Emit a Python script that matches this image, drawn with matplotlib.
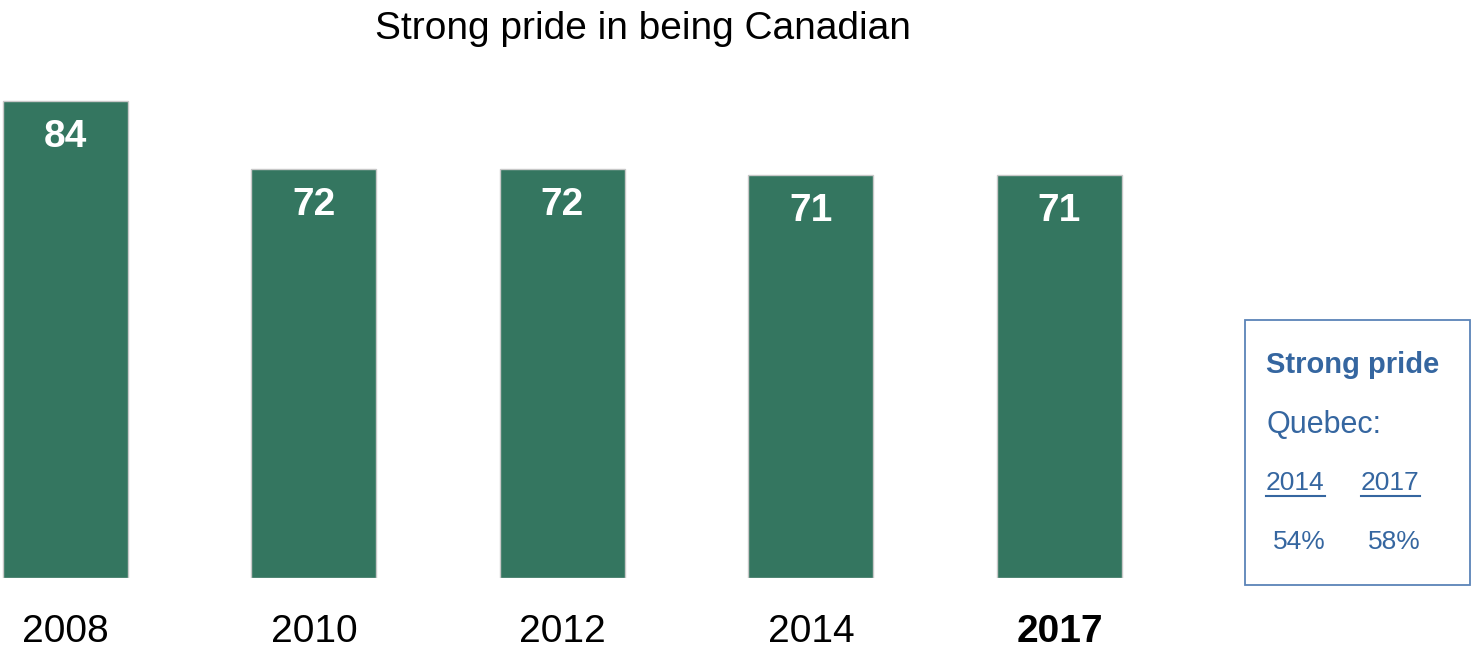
import matplotlib
matplotlib.use("Agg")
import matplotlib.pyplot as plt
from matplotlib.lines import Line2D

plt.rcParams['font.family'] = ['Liberation Sans', 'DejaVu Sans']

# data
years = ['2008', '2010', '2012', '2014', '2017']
pride = [84, 72, 72, 71, 71]
quebec_years = ['2014', '2017']
quebec_vals = ['54%', '58%']

bar_color = '#347660'
blue = '#3566a0'

fig = plt.figure(figsize=(14.72, 6.48), dpi=100)
ax = fig.add_axes([0.0006, 70 / 648, 1123.2 / 1472, 568 / 648])

x = list(range(len(years)))
bars = ax.bar(x, pride, width=0.503, color=bar_color, edgecolor='#c8c8c8', linewidth=1)
ax.set_xlim(-0.26, 4.26)
ax.set_ylim(0, 100)
ax.axis('off')

# value labels inside the bars
for xi, v in zip(x, pride):
    ax.annotate(str(v), (xi, v), xytext=(0, -26), textcoords='offset points',
                ha='center', va='center', color='white', fontsize=28, fontweight='bold')

# year labels below
for xi, yr in zip(x, years):
    ax.annotate(yr, (xi, 0), xytext=(0, -39), textcoords='offset points',
                ha='center', va='center', color='black', fontsize=28,
                fontweight='bold' if yr == '2017' else 'normal')

fig.text(643 / 1472, 1 - 29 / 648, 'Strong pride in being Canadian',
         ha='center', va='center', fontsize=28, color='black')

# Quebec side box
box = plt.Rectangle((1245 / 1472, 1 - 585 / 648), 225 / 1472, 265 / 648,
                    transform=fig.transFigure, fill=False, edgecolor='#5b84b8', linewidth=1.3)
fig.add_artist(box)

fig.text(1266 / 1472, 1 - 365 / 648, 'Strong pride', ha='left', va='center',
         fontsize=21, fontweight='bold', color=blue)
fig.text(1266 / 1472, 1 - 425 / 648, 'Quebec:', ha='left', va='center',
         fontsize=22, color=blue)

col_x = [1266, 1361]
year_texts = []
for cx, yr, val in zip(col_x, quebec_years, quebec_vals):
    t = fig.text(cx / 1472, 1 - 483 / 648, yr, ha='left', va='center', fontsize=19, color=blue)
    year_texts.append(t)
    fig.text((cx + 7) / 1472, 1 - 542 / 648, val, ha='left', va='center', fontsize=19, color=blue)

# underline the Quebec years
fig.canvas.draw()
renderer = fig.canvas.get_renderer()
for t in year_texts:
    bb = t.get_window_extent(renderer).transformed(fig.transFigure.inverted())
    fig.add_artist(Line2D([bb.x0, bb.x1], [1 - 496 / 648, 1 - 496 / 648],
                          transform=fig.transFigure, color=blue, linewidth=1.5))

fig.savefig('out.png', dpi=100)
